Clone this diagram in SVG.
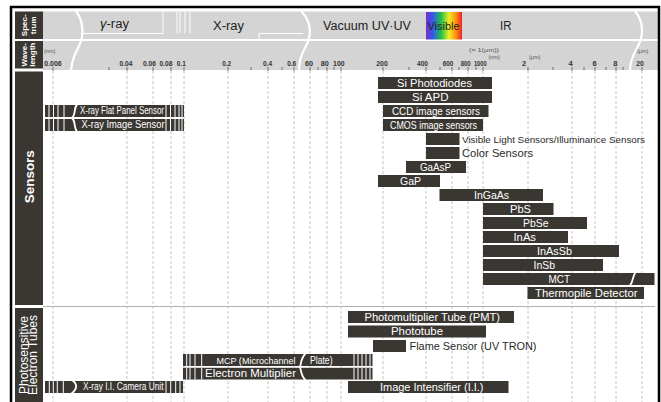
<svg xmlns="http://www.w3.org/2000/svg" width="661" height="402" viewBox="0 0 661 402">
<defs>
<linearGradient id="rainbow" x1="0" x2="1" y1="0" y2="0">
<stop offset="0" stop-color="#7a2fc4"/>
<stop offset="0.18" stop-color="#3455ee"/>
<stop offset="0.42" stop-color="#22c048"/>
<stop offset="0.64" stop-color="#eeee22"/>
<stop offset="0.82" stop-color="#ff9612"/>
<stop offset="1" stop-color="#ee2222"/>
</linearGradient>
<style>
.bar{fill:#3a3632}
.bt{font-family:"Liberation Sans",Arial,sans-serif;font-size:11px;fill:#fff}
.bts{font-family:"Liberation Sans",Arial,sans-serif;font-size:10px;fill:#fff}
.dt{font-family:"Liberation Sans",Arial,sans-serif;font-size:11px;fill:#2a2a2a}
.st{stroke:#fff;stroke-width:1;fill:none}
.brk{stroke:#fff;stroke-width:1.8;fill:none}
.wave{stroke:#fff;stroke-width:2.2;fill:none}
.grid{stroke:#b8b8b8;stroke-width:0.8;stroke-dasharray:3 2}
.tick{stroke:#555;stroke-width:0.8}
.wl{font-family:"Liberation Sans",Arial,sans-serif;font-size:7.5px;font-weight:bold;fill:#333;text-anchor:middle}
.sm{font-family:"Liberation Sans",Arial,sans-serif;font-size:5.5px;fill:#555}
.hd{font-family:"Liberation Sans",Arial,sans-serif;font-size:12.5px;fill:#222}
.side{font-family:"Liberation Sans",Arial,sans-serif;fill:#fff;text-anchor:middle}
.hdr{fill:#d4d4d4}
.dark{fill:#3a3632}
</style>
</defs>
<rect width="661" height="402" fill="#fff"/>

<!-- header -->
<g id="header">
<rect class="hdr" x="43" y="11.5" width="615" height="27.5"/>
<rect class="hdr" x="43" y="41" width="615" height="29"/>
<rect class="dark" x="15" y="11.5" width="28" height="27.5"/>
<rect class="dark" x="15" y="41" width="28" height="27.5"/>
<path class="st" d="M81,33.5 H163 V11.5 M177,11.5 V33.5 M180,11.5 V33.5 M185,11.5 V33.5 M190,11.5 V33.5 M259,39 V33.5 H303"/>
<path class="wave" d="M76,11 C84,22 84,36 79,46 C75,54 72,60 71,70"/>
<path class="wave" d="M301,11 C312,22 312,36 305,48 C301,55 299,61 299,70"/>
<path class="wave" d="M635,11 C644,22 644,36 637,48 C633,55 630,61 630,70"/>
<rect x="426" y="12" width="36" height="27.5" fill="url(#rainbow)"/>
<text class="hd" x="100" y="27.5" textLength="29" lengthAdjust="spacingAndGlyphs"><tspan font-style="italic">γ</tspan>-ray</text>
<text class="hd" x="213" y="29.5" textLength="31" lengthAdjust="spacingAndGlyphs">X-ray</text>
<text class="hd" x="323" y="30" textLength="88" lengthAdjust="spacingAndGlyphs">Vacuum UV·UV</text>
<text class="hd" x="427.5" y="30" style="font-size:11.5px" textLength="32" lengthAdjust="spacingAndGlyphs">Visible</text>
<text class="hd" x="500" y="30" textLength="11.5" lengthAdjust="spacingAndGlyphs">IR</text>
<text class="side" font-weight="bold" font-size="8" transform="translate(26.8,25.3) rotate(-90)">Spec-</text>
<text class="side" font-weight="bold" font-size="8" transform="translate(35.8,25.3) rotate(-90)">trum</text>
<text class="side" font-weight="bold" font-size="8" transform="translate(26.8,54.8) rotate(-90)">Wave-</text>
<text class="side" font-weight="bold" font-size="8" transform="translate(35,54.8) rotate(-90)">length</text>
</g>

<!-- scale -->
<g id="scale">
<text class="sm" x="44" y="52.5">(nm)</text>
<text class="sm" x="469" y="51.5" textLength="30" lengthAdjust="spacingAndGlyphs">(= 1(μm))</text>
<text class="sm" x="488.5" y="59">(nm)</text>
<text class="sm" x="529" y="59">(μm)</text>
<text class="sm" x="637" y="52.5">(μm)</text>
<text class="wl" x="53" y="65.5" textLength="17.5" lengthAdjust="spacingAndGlyphs">0.006</text>
<text class="wl" x="126" y="65.5" textLength="13" lengthAdjust="spacingAndGlyphs">0.04</text>
<text class="wl" x="149.5" y="65.5" textLength="13" lengthAdjust="spacingAndGlyphs">0.06</text>
<text class="wl" x="166" y="65.5" textLength="13" lengthAdjust="spacingAndGlyphs">0.08</text>
<text class="wl" x="181.3" y="65.5" textLength="9" lengthAdjust="spacingAndGlyphs">0.1</text>
<text class="wl" x="226.7" y="65.5" textLength="9" lengthAdjust="spacingAndGlyphs">0.2</text>
<text class="wl" x="267.5" y="65.5" textLength="9" lengthAdjust="spacingAndGlyphs">0.4</text>
<text class="wl" x="291.7" y="65.5" textLength="9" lengthAdjust="spacingAndGlyphs">0.6</text>
<text class="wl" x="309" y="65.5" textLength="8" lengthAdjust="spacingAndGlyphs">60</text>
<text class="wl" x="324.7" y="65.5" textLength="8" lengthAdjust="spacingAndGlyphs">80</text>
<text class="wl" x="338.8" y="65.5" textLength="11.5" lengthAdjust="spacingAndGlyphs">100</text>
<text class="wl" x="382" y="65.5" textLength="11.5" lengthAdjust="spacingAndGlyphs">200</text>
<text class="wl" x="422.5" y="65.5" textLength="11" lengthAdjust="spacingAndGlyphs">400</text>
<text class="wl" x="448" y="65.5" textLength="10.5" lengthAdjust="spacingAndGlyphs">600</text>
<text class="wl" x="465.7" y="65.5" textLength="10" lengthAdjust="spacingAndGlyphs">800</text>
<text class="wl" x="480.3" y="65.5" textLength="12.7" lengthAdjust="spacingAndGlyphs">1000</text>
<text class="wl" x="524" y="65.5">2</text>
<text class="wl" x="570.5" y="65.5">4</text>
<text class="wl" x="594.7" y="65.5">6</text>
<text class="wl" x="615.3" y="65.5">8</text>
<text class="wl" x="640" y="65.5" textLength="7.5" lengthAdjust="spacingAndGlyphs">20</text>
<path class="tick" d="M53,67V71 M127,67V71 M153,67V71 M171,67V71 M184,67V71 M228,67V71 M268,67V71 M294,67V71 M310,67V71 M327,67V71 M341,67V71 M383,67V71 M426,67V71 M452,67V71 M468,67V71 M483,67V71 M528,67V71 M572,67V71 M595,67V71 M616,67V71 M642,67V71"/>
<path class="tick" d="M109,67V70 M251,67V70 M282,67V70 M318,67V70 M334,67V70 M409,67V70 M440,67V70 M459,67V70 M476,67V70 M553,67V70 M584,67V70 M606,67V70 M623,67V70"/>
</g>

<!-- connectors / grid -->
<g id="grid">
<path class="grid" d="M53,71V402 M127,71V402 M153,71V402 M171,71V402 M184,71V402 M228,71V402 M268,71V402 M294,71V402 M310,71V402 M327,71V402 M341,71V402 M383,71V402 M426,71V402 M452,71V402 M468,71V402 M483,71V402 M528,71V402 M572,71V402 M595,71V402 M616,71V402 M642,71V402"/>
<line x1="43" y1="306.5" x2="655" y2="306.5" stroke="#a8a8a8" stroke-width="0.9"/>
</g>

<!-- side labels -->
<g id="side-sensors">
<rect class="dark" x="15" y="71.5" width="28" height="233.5"/>
<text class="side" font-size="13" font-weight="bold" textLength="53" lengthAdjust="spacingAndGlyphs" transform="translate(34.3,176.7) rotate(-90)">Sensors</text>
</g>
<g id="side-tubes">
<rect class="dark" x="15" y="308" width="28" height="94"/>
<text class="side" font-size="12" transform="translate(28.3,355) rotate(-90)">Photosensitive</text>
<text class="side" font-size="12" transform="translate(37.3,355) rotate(-90)">Electron Tubes</text>
</g>

<!-- sensors -->
<g id="si-photodiodes"><rect class="bar" x="378" y="77" width="114" height="12"/><text class="bt" x="397" y="86.6" textLength="75" lengthAdjust="spacingAndGlyphs">Si Photodiodes</text></g>
<g id="si-apd"><rect class="bar" x="378" y="91" width="114" height="12"/><text class="bt" x="412" y="100.6" textLength="36.5" lengthAdjust="spacingAndGlyphs">Si APD</text></g>
<g id="ccd"><rect class="bar" x="383" y="105" width="105.5" height="12"/><text class="bt" x="392" y="114.6" textLength="88" lengthAdjust="spacingAndGlyphs">CCD image sensors</text></g>
<g id="cmos"><rect class="bar" x="383" y="119" width="100" height="12"/><text class="bt" x="390" y="128.6" textLength="87" lengthAdjust="spacingAndGlyphs">CMOS image sensors</text></g>
<g id="visible-light"><rect class="bar" x="426" y="133" width="33.5" height="12"/><text class="dt" x="462" y="142.6" style="font-size:9.5px" textLength="183" lengthAdjust="spacingAndGlyphs">Visible Light Sensors/Illuminance Sensors</text></g>
<g id="color-sensors"><rect class="bar" x="426" y="147" width="33.5" height="12"/><text class="dt" x="462" y="156.6" textLength="71" lengthAdjust="spacingAndGlyphs">Color Sensors</text></g>
<g id="gaasp"><rect class="bar" x="406" y="161" width="60" height="12"/><text class="bt" x="420" y="170.6" textLength="31" lengthAdjust="spacingAndGlyphs">GaAsP</text></g>
<g id="gap"><rect class="bar" x="378" y="175" width="62" height="12"/><text class="bt" x="400" y="184.6" textLength="21" lengthAdjust="spacingAndGlyphs">GaP</text></g>
<g id="ingaas"><rect class="bar" x="439.5" y="189" width="103.5" height="12"/><text class="bt" x="474" y="198.6" textLength="35" lengthAdjust="spacingAndGlyphs">InGaAs</text></g>
<g id="pbs"><rect class="bar" x="483" y="203" width="70.5" height="12"/><text class="bt" x="510" y="212.6" textLength="21" lengthAdjust="spacingAndGlyphs">PbS</text></g>
<g id="pbse"><rect class="bar" x="483" y="217" width="104" height="12"/><text class="bt" x="523" y="226.6" textLength="25.5" lengthAdjust="spacingAndGlyphs">PbSe</text></g>
<g id="inas"><rect class="bar" x="483" y="231" width="85" height="12"/><text class="bt" x="513.5" y="240.6" textLength="22.5" lengthAdjust="spacingAndGlyphs">InAs</text></g>
<g id="inassb"><rect class="bar" x="483" y="245" width="136" height="12"/><text class="bt" x="537" y="254.6" textLength="35" lengthAdjust="spacingAndGlyphs">InAsSb</text></g>
<g id="insb"><rect class="bar" x="483" y="259" width="120" height="12"/><text class="bt" x="533.5" y="268.6" textLength="21.5" lengthAdjust="spacingAndGlyphs">InSb</text></g>
<g id="mct"><rect class="bar" x="483" y="273" width="171.5" height="12"/><path class="brk" d="M635.5,272.5 C632,277 634,280 630,285.5"/><text class="bt" x="548.5" y="282.6" textLength="21.5" lengthAdjust="spacingAndGlyphs">MCT</text></g>
<g id="thermopile"><rect class="bar" x="527.5" y="287" width="116.5" height="12"/><text class="bt" x="535" y="296.6" textLength="102.5" lengthAdjust="spacingAndGlyphs">Thermopile Detector</text></g>

<g id="xray-flat-panel"><rect class="bar" x="45" y="105" width="139" height="12"/><path class="st" d="M49,105V117 M53.5,105V117 M58,105V117 M64,105V117 M166,105V117 M170.5,105V117 M175,105V117 M179,105V117 M182,105V117"/><text class="bts" x="80" y="114.4" textLength="84" lengthAdjust="spacingAndGlyphs">X-ray Flat Panel Sensor</text></g>
<g id="xray-image-sensor"><rect class="bar" x="45" y="119" width="139" height="12"/><path class="st" d="M49,119V131 M53.5,119V131 M58,119V131 M64,119V131 M166,119V131 M170.5,119V131 M175,119V131 M179,119V131 M182,119V131"/><text class="bts" x="81.5" y="128.4" textLength="83" lengthAdjust="spacingAndGlyphs">X-ray Image Sensor</text></g>
<path class="brk" d="M77.5,104 C73,108 76.5,114 72,118 C76.5,122 73,128 77.5,132"/>

<!-- electron tubes -->
<g id="pmt"><rect class="bar" x="348" y="311" width="166" height="12"/><text class="bt" x="364.5" y="320.6" textLength="135.5" lengthAdjust="spacingAndGlyphs">Photomultiplier Tube (PMT)</text></g>
<g id="phototube"><rect class="bar" x="348" y="325.5" width="138" height="12"/><text class="bt" x="391" y="335.1" textLength="52" lengthAdjust="spacingAndGlyphs">Phototube</text></g>
<g id="flame-sensor"><rect class="bar" x="373" y="340" width="33" height="12"/><text class="dt" x="409.5" y="349.6" textLength="127" lengthAdjust="spacingAndGlyphs">Flame Sensor (UV TRON)</text></g>
<g id="mcp"><rect class="bar" x="183" y="354" width="189.5" height="12"/><path class="st" d="M186.7,354V366 M190,354V366 M195,354V366 M201.7,354V366 M354,354V366 M358,354V366 M362,354V366 M366,354V366 M370,354V366"/><text class="bt" x="216.5" y="363.5" style="font-size:9.5px" textLength="79" lengthAdjust="spacingAndGlyphs">MCP (Microchannel</text><text class="bt" x="310" y="363.5" style="font-size:10px" textLength="22.5" lengthAdjust="spacingAndGlyphs">Plate)</text></g>
<g id="electron-multiplier"><rect class="bar" x="183" y="367.8" width="189.5" height="11.7"/><path class="st" d="M186.7,368V379.5 M190,368V379.5 M195,368V379.5 M201.7,368V379.5 M354,368V379.5 M358,368V379.5 M362,368V379.5 M366,368V379.5 M370,368V379.5"/><text class="bt" x="205" y="377.3" textLength="91" lengthAdjust="spacingAndGlyphs">Electron Multiplier</text></g>
<path class="brk" d="M305.5,353.5 C301,358 301.5,362 300,367 C301.5,372 301,376 305.5,380"/>
<g id="image-intensifier"><rect class="bar" x="348" y="381" width="160.5" height="12"/><text class="bt" x="380" y="390.6" textLength="103.5" lengthAdjust="spacingAndGlyphs">Image Intensifier (I.I.)</text></g>
<g id="xray-ii-camera"><rect class="bar" x="45" y="381" width="138" height="12"/><path class="st" d="M49.3,381V393 M53.3,381V393 M57.3,381V393 M63.3,381V393 M166,381V393 M170.7,381V393 M175.7,381V393 M180,381V393"/><path class="brk" d="M72.5,380.5 C77.5,384 77.5,389 71.5,393.5"/><text class="bts" x="83" y="390.4" textLength="80.5" lengthAdjust="spacingAndGlyphs">X-ray I.I. Camera Unit</text></g>

<!-- frame -->
<path d="M11,402 V7 H659 V402" fill="none" stroke="#000" stroke-width="2.5"/>
</svg>
